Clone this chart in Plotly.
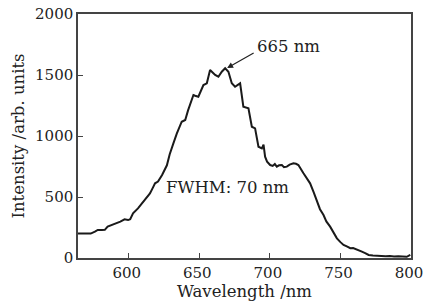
import plotly.graph_objects as go

wavelength = [564, 569, 573, 576, 578, 581, 583, 585, 588, 590, 592, 594, 597, 599.5,
              601, 603, 606.5, 610, 613, 615, 617, 618.6, 620.7, 623.6, 627, 629,
              631.6, 634, 637.5, 640, 642, 644.6, 645.8, 647, 649.3, 652.9, 655.3,
              657.6, 659, 661.2, 663.5, 665.9, 668.3, 670.6, 673, 675.3, 678.9,
              681.2, 684.8, 687.2, 689.5, 691.9, 694.3, 695.5, 696.6, 698, 700.2,
              702, 703.5, 704.9, 706.5, 708.5, 710, 712, 714, 716.7, 718.5, 720.2,
              723.8, 726, 728.5, 731, 733.3, 735.5, 738, 740, 742.7, 745, 747.5,
              750, 752.2, 754.5, 757, 759, 761.7, 763.5, 765.2, 767.5, 770, 773,
              776, 779, 782, 785, 788, 791, 794.5, 797, 799.5]
intensity = [200, 197, 200, 216, 230, 229, 231, 257, 270, 284, 290, 298, 317, 311,
             318, 366, 407, 461, 500, 530, 575, 612, 626, 680, 760, 850,
             940, 1020, 1117, 1131, 1210, 1295, 1336, 1330, 1322, 1418, 1432,
             1541, 1525, 1500, 1486, 1527, 1555, 1527, 1432, 1404, 1432,
             1240, 1227, 1076, 1063, 912, 899, 930, 830, 790, 762,
             755, 770, 749, 760, 762, 745, 749, 765, 776, 772, 762,
             694, 660, 612, 540, 461, 400, 352, 300, 257, 205, 161,
             130, 107, 95, 80, 82, 66, 60, 52, 40, 25, 20,
             16, 18, 14, 16, 12, 15, 11, 10, 25]

x_ticks = [600, 650, 700, 750, 800]
y_ticks = [0, 500, 1000, 1500, 2000]

font_family = "DejaVu Serif"
fs = 16.5
tfs = 15

fig = go.Figure()
fig.add_trace(go.Scatter(x=wavelength, y=intensity, mode="lines",
                         line=dict(color="#1a1a1a", width=2), showlegend=False))

axis_common = dict(showline=True, linecolor="#444", linewidth=1.5, mirror=True,
                   ticks="inside", ticklen=5, tickcolor="#444", tickwidth=1.2,
                   showgrid=False, zeroline=False, automargin=False,
                   ticklabeloverflow="allow",
                   tickfont=dict(family=font_family, size=tfs, color="#222"))

fig.update_layout(
    width=424, height=304,
    margin=dict(l=78, r=13, t=14, b=46),
    paper_bgcolor="white", plot_bgcolor="white",
    xaxis=dict(range=[564, 800.01], tickvals=x_ticks, ticklabelshift=-2,
               **axis_common),
    yaxis=dict(range=[0, 2000], tickvals=y_ticks,
               title=dict(text="Intensity /arb. units", standoff=6,
                          font=dict(family=font_family, size=fs, color="#222")),
               **axis_common),
    annotations=[
        dict(x=0.5, y=0, xref="paper", yref="paper", text="Wavelength /nm",
             showarrow=False, yshift=-33, yanchor="middle",
             font=dict(family=font_family, size=fs, color="#222")),
        dict(x=669.7, y=1557, xref="x", yref="y", text="", showarrow=True,
             ax=28, ay=-16, arrowhead=2, arrowsize=1, arrowwidth=1.2, arrowcolor="#222"),
        dict(x=713.3, y=1730, xref="x", yref="y", text="665 nm", showarrow=False,
             font=dict(family=font_family, size=fs, color="#222")),
        dict(x=669.7, y=582, xref="x", yref="y", text="FWHM: 70 nm", showarrow=False,
             font=dict(family=font_family, size=fs, color="#222")),
    ],
)

fig.write_html("out.html",
               config={"displayModeBar": False},
               post_script="document.body.style.margin='0';document.body.style.overflow='hidden';")
